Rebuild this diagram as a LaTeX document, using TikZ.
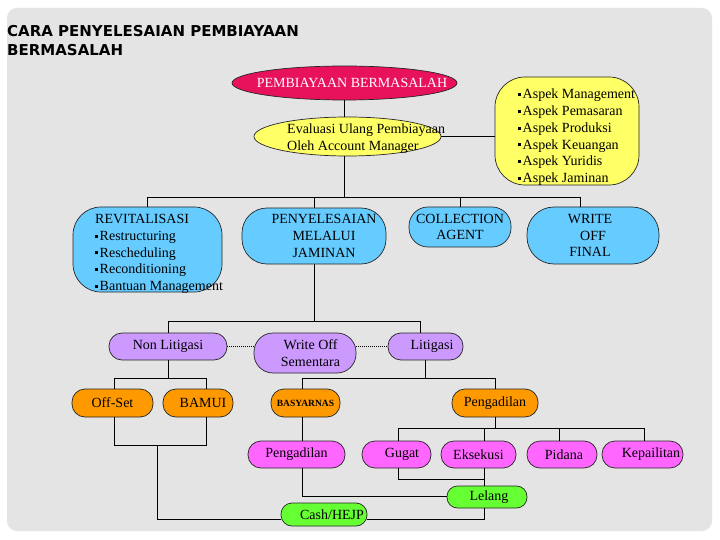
\documentclass[tikz,border=0pt]{standalone}
\usepackage{fontspec}
\setmainfont{Liberation Serif}
\newfontfamily\titlefont{DejaVu Sans}
\usetikzlibrary{shapes.geometric,calc}
\definecolor{crim}{RGB}{232,18,92}
\definecolor{yel}{RGB}{255,255,102}
\definecolor{sky}{RGB}{102,204,255}
\definecolor{lav}{RGB}{204,153,255}
\definecolor{org}{RGB}{255,153,0}
\definecolor{mag}{RGB}{255,102,255}
\definecolor{grn}{RGB}{102,255,51}
\definecolor{panel}{RGB}{228,228,228}
\newcommand\bxfont{\fontsize{14}{16.7}\selectfont}
\newcommand\sqb{\rule[2.8pt]{3pt}{3pt}\hspace{1.5pt}}
\begin{document}
\begin{tikzpicture}[x=1pt,y=-1pt,font=\bxfont,
  box/.style={draw=black!85,line width=0.7pt,inner sep=0pt,align=center},
  conn/.style={draw=black,line width=0.8pt},
  dots/.style={draw=black,line width=0.8pt,dash pattern=on 1pt off 1pt},
  txt/.style={inner sep=0pt}]
\useasboundingbox (0,0) rectangle (720,540);
\fill[white] (0,0) rectangle (720,540);
\fill[panel,rounded corners=10pt] (7,8) rectangle (712,531);

% title
\node[txt,anchor=base west,font=\titlefont\bfseries\fontsize{15}{18}\selectfont] (title1) at (7,37) {CARA PENYELESAIAN PEMBIAYAAN};
\node[txt,anchor=base west,font=\titlefont\bfseries\fontsize{15}{18}\selectfont] (title2) at (7,56) {BERMASALAH};

% top ellipses
\node[box,ellipse,fill=crim,minimum width=225pt,minimum height=34pt] (pemb) at (344.5,83) {};
\node[txt,text=white] (tpemb) at (352,83) {PEMBIAYAAN BERMASALAH};
\node[box,ellipse,fill=yel,minimum width=187pt,minimum height=39pt] (eval) at (347.5,136.5) {};
\node[txt,anchor=west,align=left] (teval) at (287,138.5) {Evaluasi Ulang Pembiayaan\\Oleh Account Manager};

% aspek box
\node[box,fill=yel,minimum width=144pt,minimum height=108pt,rounded corners=30pt] (aspek) at (567,131) {};
\node[txt,anchor=west,align=left] (taspek) at (518,137.3) {\sqb Aspek Management\\\sqb Aspek Pemasaran\\\sqb Aspek Produksi\\\sqb Aspek Keuangan\\\sqb Aspek Yuridis\\\sqb Aspek Jaminan};

% level 2 (blue)
\node[box,fill=sky,minimum width=149pt,minimum height=85pt,rounded corners=28pt] (revit) at (147.5,249.5) {};
\node[txt,anchor=west,align=left] (trevit) at (95,254) {REVITALISASI\\\sqb Restructuring\\\sqb Rescheduling\\\sqb Reconditioning\\\sqb Bantuan Management};
\node[box,fill=sky,minimum width=144pt,minimum height=56pt,rounded corners=25pt] (pen) at (314,236) {\hspace*{20pt}PENYELESAIAN\\\hspace*{20pt}MELALUI\\\hspace*{20pt}JAMINAN};
\node[box,fill=sky,minimum width=102pt,minimum height=40pt,rounded corners=19pt] (coll) at (460,227) {COLLECTION\\AGENT};
\node[box,fill=sky,minimum width=132pt,minimum height=57pt,rounded corners=27pt] (wof) at (593,235.5) {WRITE\hspace*{6pt}\\OFF\hspace*{6pt}\\FINAL\hspace*{6pt}};

% level 3 (lavender)
\node[box,fill=lav,minimum width=118pt,minimum height=27pt,rounded corners=13pt] (nonlit) at (168,346.5) {Non Litigasi};
\node[box,fill=lav,minimum width=102pt,minimum height=40pt,rounded corners=19pt] (wos) at (305,353) {\hspace*{11pt}Write Off\\\hspace*{11pt}Sementara};
\node[box,fill=lav,minimum width=75pt,minimum height=27pt,rounded corners=13pt] (lit) at (425.5,346.5) {\hspace*{13pt}Litigasi};

% level 4 (orange)
\node[box,fill=org,minimum width=81pt,minimum height=28pt,rounded corners=13pt] (offset) at (112.5,403) {Off-Set};
\node[box,fill=org,minimum width=70pt,minimum height=28pt,rounded corners=13pt] (bamui) at (198,403) {\hspace*{10pt}BAMUI};
\node[box,fill=org,minimum width=69pt,minimum height=28pt,rounded corners=13pt,font=\fontsize{9.5}{11}\selectfont\bfseries] (basy) at (305.5,403) {BASYARNAS};
\node[box,fill=org,minimum width=86pt,minimum height=28pt,rounded corners=13pt] (peng1) at (495,403) {Pengadilan};

% level 5 (magenta)
\node[box,fill=mag,minimum width=97pt,minimum height=27pt,rounded corners=13pt] (peng2) at (296.5,454.5) {Pengadilan};
\node[box,fill=mag,minimum width=69pt,minimum height=27pt,rounded corners=13pt] (gugat) at (396.5,454.5) {\hspace*{11pt}Gugat};
\node[box,fill=mag,minimum width=75pt,minimum height=27pt,rounded corners=13pt] (eks) at (478.5,454.5) {Eksekusi};
\node[box,fill=mag,minimum width=70pt,minimum height=27pt,rounded corners=13pt] (pid) at (562,454.5) {\hspace*{4pt}Pidana};
\node[box,fill=mag,minimum width=81pt,minimum height=27pt,rounded corners=13pt] (kep) at (642.5,454.5) {\hspace*{17pt}Kepailitan};

% green
\node[box,fill=grn,minimum width=80pt,minimum height=22pt,rounded corners=10.5pt] (lelang) at (487,497) {\hspace*{4pt}Lelang};
\node[box,fill=grn,minimum width=86pt,minimum height=23pt,rounded corners=11pt] (cash) at (324,514.5) {\hspace*{16pt}Cash/HEJP};

% coordinates of junctions
\coordinate (b1L) at (147.5,197);
\coordinate (b1R) at (580,197);
\coordinate (b2R) at (420,321);
\coordinate (b3L) at (114,378);
\coordinate (b3R) at (206,378);
\coordinate (b4L) at (302,378);
\coordinate (b4R) at (495,378);
\coordinate (b5L) at (114,445);
\coordinate (b5R) at (206,445);
\coordinate (b5M) at (157,445);
\coordinate (b6) at (157,519);
\coordinate (b7) at (484,519);
\coordinate (b8) at (302,496);
\coordinate (b9L) at (398,428);
\coordinate (b9R) at (644,428);
\coordinate (b9E) at (484,428);
\coordinate (b9P) at (559,428);
\coordinate (b10) at (398,479);
\coordinate (b10R) at (484,479);

% connectors
\draw[conn] (pemb.south) -- (pemb.south |- eval.north);
\draw[conn] (pemb.south |- eval.south) -- (pemb.south |- b1L);
\draw[conn] (eval.east) -- (eval.east -| aspek.west);
\draw[conn] (revit.north) -- (b1L) -- (b1R) -- (b1R |- wof.north);
\draw[conn] (pen.north) -- (pen.north |- b1L);
\draw[conn] (coll.north) -- (coll.north |- b1L);

\draw[conn] (pen.south) -- (pen.south |- b2R);
\draw[conn] (nonlit.north) |- (b2R) -- (b2R |- lit.north);
\draw[dots] (nonlit.east) -- (nonlit.east -| wos.west);
\draw[dots] (wos.east |- lit.west) -- (lit.west);

\draw[conn] (nonlit.south) -- (nonlit.south |- b3L);
\draw[conn] (offset.north -| b3L) -- (b3L) -- (b3R) -- (b3R |- bamui.north);
\draw[conn] (lit.south) -- (lit.south |- b4L);
\draw[conn] (basy.north -| b4L) -- (b4L) -- (b4R) -- (peng1.north);
\draw[conn] (basy.south -| b4L) -- (peng2.north -| b4L);

\draw[conn] (offset.south -| b5L) -- (b5L) -- (b5R) -- (bamui.south -| b5R);
\draw[conn] (b5M) -- (b6) -- (b6 -| cash.west);
\draw[conn] (cash.east |- b6) -- (b7) -- (b7 |- lelang.south);
\draw[conn] (peng2.south -| b8) -- (b8) -- (b8 -| lelang.west);

\draw[conn] (peng1.south) -- (peng1.south |- b9L);
\draw[conn] (gugat.north -| b9L) -- (b9L) -- (b9R) -- (b9R |- kep.north);
\draw[conn] (b9E) -- (b9E |- eks.north);
\draw[conn] (b9P) -- (b9P |- pid.north);
\draw[conn] (gugat.south -| b10) -- (b10) -- (b10R);
\draw[conn] (eks.south -| b9E) -- (b9E |- lelang.north);
\end{tikzpicture}
\end{document}
